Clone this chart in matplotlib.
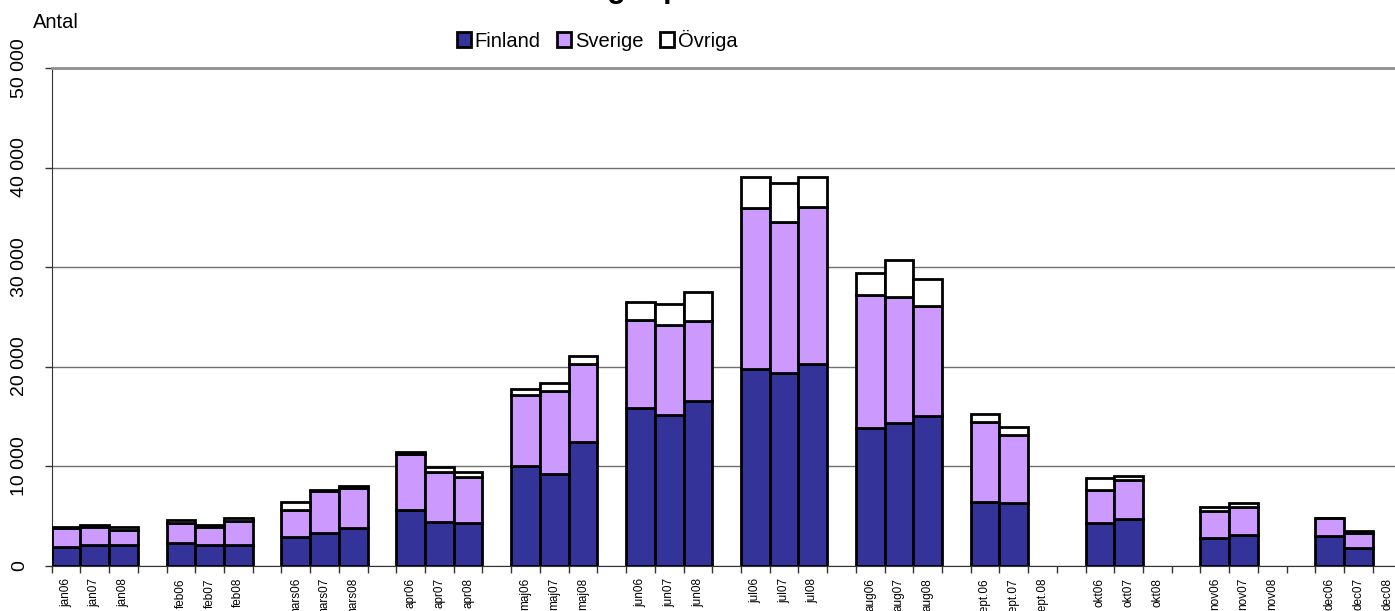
"""Monthly stacked bars, Finland / Sverige / Övriga, 2006-2008."""
import numpy as np
import matplotlib; matplotlib.use("Agg")
import matplotlib.pyplot as plt
from matplotlib.ticker import FuncFormatter, FixedLocator

months = ["jan", "feb", "mars", "apr", "maj", "jun", "jul", "aug", "sept.", "okt", "nov", "dec"]
years = ["06", "07", "08"]

# values per month: [2006, 2007, 2008]; 0 = no data
finland = [[1900, 2060, 2080], [2290, 2030, 2090], [2830, 3240, 3770], [5600, 4400, 4240],
           [10000, 9200, 12410], [15800, 15130, 16560], [19750, 19310, 20250], [13850, 14350, 15030],
           [6410, 6310, 0], [4240, 4640, 0], [2730, 3070, 0], [2960, 1730, 0]]
sverige = [[1840, 1780, 1490], [2010, 1870, 2380], [2750, 4250, 3990], [5640, 5030, 4690],
           [7140, 8340, 7810], [8870, 9040, 8010], [16210, 15180, 15810], [13340, 12600, 11080],
           [7980, 6810, 0], [3350, 3950, 0], [2750, 2780, 0], [1780, 1570, 0]]
ovriga = [[100, 200, 330], [270, 200, 270], [800, 100, 230], [200, 440, 470],
          [570, 770, 870], [1810, 2110, 2890], [3120, 3920, 3020], [2240, 3750, 2680],
          [800, 830, 0], [1170, 400, 0], [370, 400, 0], [60, 200, 0]]

NAVY, LAV = "#333399", "#CC99FF"
plt.rcParams["font.family"] = ["Liberation Sans", "DejaVu Sans"]

fig = plt.figure(figsize=(13.95, 6.11), dpi=100)
ax = fig.add_axes([51.7/1395, 45.5/611, 1349.8/1395, 497.5/611])

pos, labels = [], []
for m, mon in enumerate(months):
    for k, yr in enumerate(years):
        pos.append(m*4 + k)
        labels.append(f"{mon}{yr}")
F = np.array(finland).ravel(); S = np.array(sverige).ravel(); O = np.array(ovriga).ravel()
pos = np.array(pos); has = F > 0
kw = dict(width=1.0, edgecolor="black", linewidth=2, zorder=3)
ax.bar(pos[has], F[has], color=NAVY, label="Finland", **kw)
ax.bar(pos[has], S[has], bottom=F[has], color=LAV, label="Sverige", **kw)
ax.bar(pos[has], O[has], bottom=F[has]+S[has], color="white", label="Övriga", **kw)

ax.set_xlim(-0.5, 46.5); ax.set_ylim(0, 50000)
ax.set_xticks(pos); ax.set_xticklabels(labels, rotation=90, fontsize=8.5, va="top")
ax.tick_params(axis="x", which="major", length=0, pad=9)
ax.xaxis.set_minor_locator(FixedLocator(np.arange(-0.5, 47, 1)))
ax.tick_params(axis="x", which="minor", length=5, width=1, color="#333333")
ax.set_yticks(np.arange(0, 50001, 10000))
ax.yaxis.set_major_formatter(FuncFormatter(lambda v, p: f"{int(v):,}".replace(",", " ")))
for t in ax.get_yticklabels():
    t.set_rotation(90); t.set_va("center")
ax.tick_params(axis="y", length=5, width=1, labelsize=14, pad=12, color="#333333")
ax.grid(axis="y", color="#707070", lw=1, zorder=0)
ax.spines["top"].set_color("#909090"); ax.spines["top"].set_linewidth(2)
ax.spines["left"].set_color("#333333"); ax.spines["bottom"].set_color("#333333")
ax.spines["right"].set_visible(False)

fig.text(33/1395, 1 - 22/611, "Antal", fontsize=14.5, va="center", ha="left")
ax.legend(loc="center", bbox_to_anchor=(597/1395, 1 - 40/611), bbox_transform=fig.transFigure,
          ncol=3, frameon=False, fontsize=14.5, handlelength=0.7, handleheight=0.7,
          handletextpad=0.2, columnspacing=0.8, borderaxespad=0)

# title sits mostly above the visible area; only descenders show
title = "Övernattningar per månad"
r = fig.canvas.get_renderer()
tmp = fig.text(0, 0, "Övernattnin", fontsize=22, fontweight="bold")
w = tmp.get_window_extent(r).width; tmp.remove()
fig.text((607 - w)/1395, 1 + 3/611, title, fontsize=22, fontweight="bold", va="baseline", ha="left")

fig.savefig("out.png", dpi=100)
